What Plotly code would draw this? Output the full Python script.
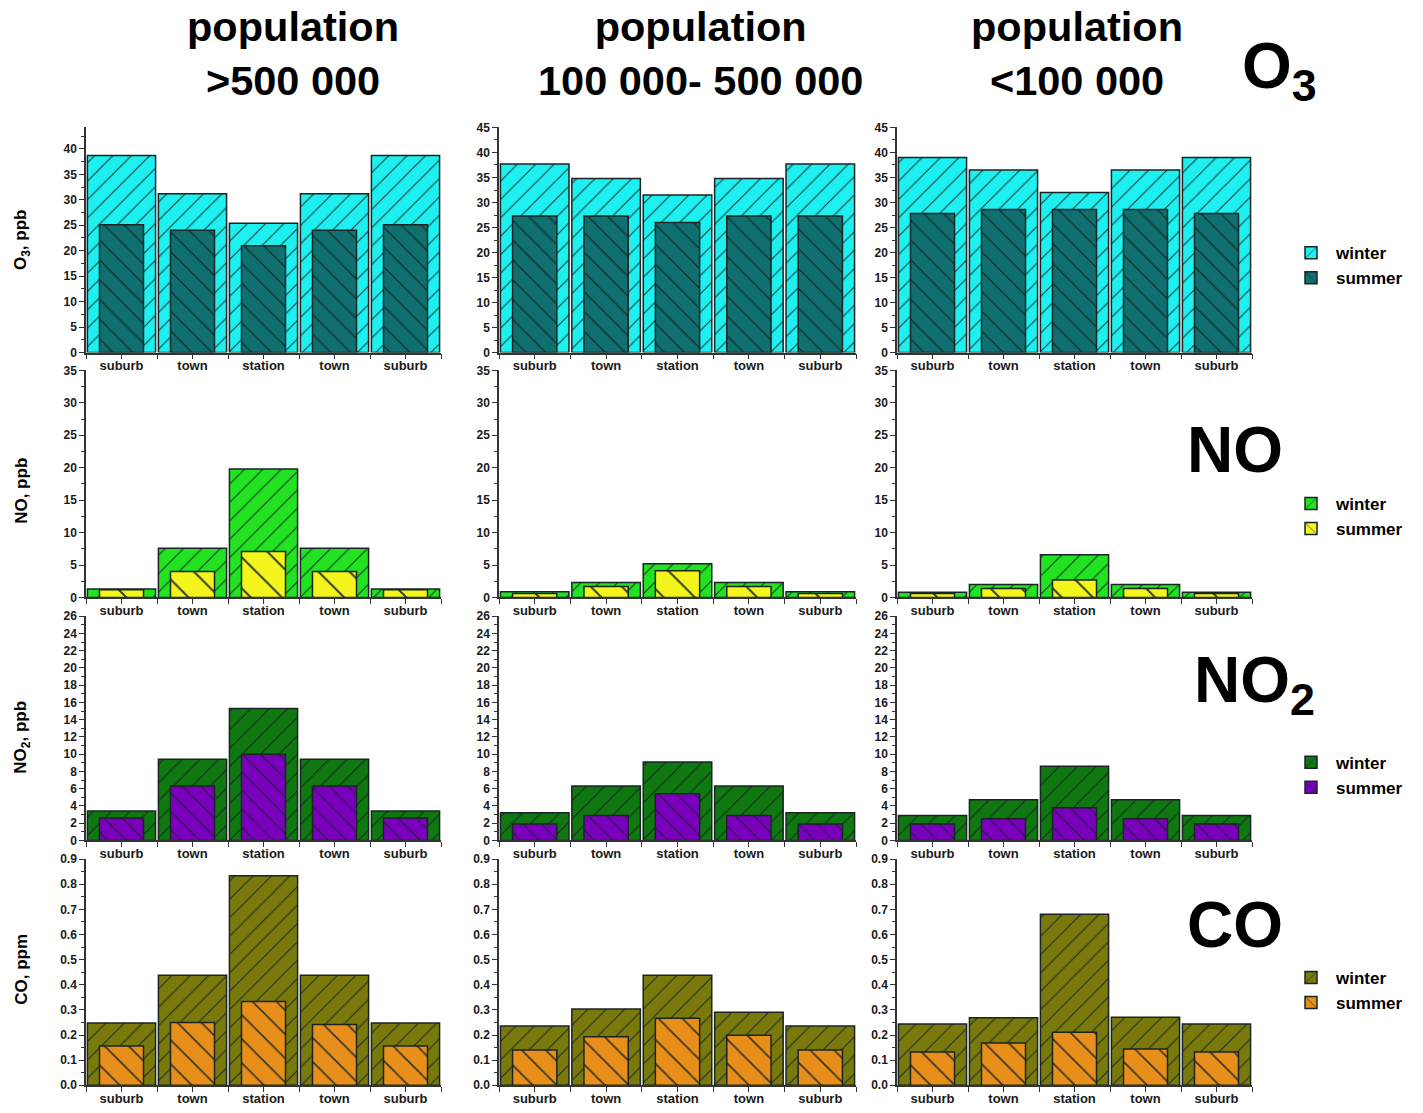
import plotly.graph_objects as go

W, H = 1423, 1113

site_labels = ["suburb", "town", "station", "town", "suburb"]
site_pos = [1, 2, 3, 4, 5]
column_titles = ["population<br>&gt;500 000",
                 "population<br>100 000- 500 000",
                 "population<br>&lt;100 000"]
season_names = ["winter", "summer"]

# O3, ppb
o3_winter_large = [38.7, 31.2, 25.4, 31.2, 38.7]
o3_summer_large = [25.1, 24.0, 21.0, 24.0, 25.1]
o3_winter_mid = [37.7, 34.8, 31.5, 34.8, 37.7]
o3_summer_mid = [27.3, 27.3, 26.0, 27.3, 27.3]
o3_winter_small = [39.0, 36.5, 32.0, 36.5, 39.0]
o3_summer_small = [27.8, 28.6, 28.6, 28.6, 27.8]

# NO, ppb
no_winter_large = [1.3, 7.6, 19.8, 7.6, 1.3]
no_summer_large = [1.2, 4.0, 7.1, 4.0, 1.2]
no_winter_mid = [0.9, 2.3, 5.2, 2.3, 0.9]
no_summer_mid = [0.6, 1.7, 4.1, 1.7, 0.6]
no_winter_small = [0.8, 2.0, 6.6, 2.0, 0.8]
no_summer_small = [0.6, 1.4, 2.7, 1.4, 0.6]

# NO2, ppb
no2_winter_large = [3.4, 9.4, 15.3, 9.4, 3.4]
no2_summer_large = [2.6, 6.3, 10.0, 6.3, 2.6]
no2_winter_mid = [3.2, 6.3, 9.1, 6.3, 3.2]
no2_summer_mid = [1.9, 2.9, 5.4, 2.9, 1.9]
no2_winter_small = [2.9, 4.7, 8.6, 4.7, 2.9]
no2_summer_small = [1.9, 2.5, 3.8, 2.5, 1.9]

# CO, ppm
co_winter_large = [0.248, 0.438, 0.834, 0.438, 0.248]
co_summer_large = [0.156, 0.250, 0.333, 0.242, 0.156]
co_winter_mid = [0.236, 0.304, 0.438, 0.291, 0.236]
co_summer_mid = [0.140, 0.193, 0.267, 0.199, 0.140]
co_winter_small = [0.244, 0.269, 0.681, 0.271, 0.244]
co_summer_small = [0.132, 0.168, 0.211, 0.144, 0.132]

rows = [
    dict(label="O<sub>3</sub>", ytitle="O<sub>3</sub>, ppb",
         winter=[o3_winter_large, o3_winter_mid, o3_winter_small],
         summer=[o3_summer_large, o3_summer_mid, o3_summer_small],
         ranges=[[0, 44.2], [0, 45], [0, 45]], dtick=5, minor=2.5, fmt="",
         colors=("rgb(30,240,240)", "rgb(16,112,112)"), hatch=(13, 14)),
    dict(label="NO", ytitle="NO, ppb",
         winter=[no_winter_large, no_winter_mid, no_winter_small],
         summer=[no_summer_large, no_summer_mid, no_summer_small],
         ranges=[[0, 35]] * 3, dtick=5, minor=2.5, fmt="",
         colors=("rgb(34,226,34)", "rgb(245,245,30)"), hatch=(13, 22)),
    dict(label="NO<sub>2</sub>", ytitle="NO<sub>2</sub>, ppb",
         winter=[no2_winter_large, no2_winter_mid, no2_winter_small],
         summer=[no2_summer_large, no2_summer_mid, no2_summer_small],
         ranges=[[0, 26]] * 3, dtick=2, minor=1, fmt="",
         colors=("rgb(16,120,16)", "rgb(122,0,190)"), hatch=(13, 13)),
    dict(label="CO", ytitle="CO, ppm",
         winter=[co_winter_large, co_winter_mid, co_winter_small],
         summer=[co_summer_large, co_summer_mid, co_summer_small],
         ranges=[[0, 0.9]] * 3, dtick=0.1, minor=0.05, fmt=".1f",
         colors=("rgb(122,122,12)", "rgb(232,142,26)"), hatch=(13, 17)),
]

# panel geometry in pixels
col_x = [(86, 441), (499, 856), (897, 1252)]
row_y = [(122, 350), (368, 598), (617, 844), (863, 1092)]
legend_top = [231, 485, 747, 965]
ytitle_center = [236, 490, 740, 975]
label_pos = [(1240, 64), (1185, 449), (1192, 686), (1185, 930)]
title_x = [293, 700, 1077]

FONT = "Liberation Sans, Arial, sans-serif"
INK = "#1a1a1a"

fig = go.Figure()
layout = dict(width=W, height=H, margin=dict(l=0, r=0, t=0, b=0), autosize=False,
              paper_bgcolor="white", plot_bgcolor="white", barmode="overlay",
              showlegend=True, font=dict(family=FONT, color=INK))
annotations = []

for r, spec in enumerate(rows):
    legend_name = "legend" if r == 0 else f"legend{r + 1}"
    for c in range(3):
        idx = r * 3 + c + 1
        xa = "x" if idx == 1 else f"x{idx}"
        ya = "y" if idx == 1 else f"y{idx}"
        for s, (vals, width, shape) in enumerate(
                [(spec["winter"][c], 0.96, "/"), (spec["summer"][c], 0.62, "\\")]):
            fig.add_trace(go.Bar(
                x=site_pos, y=vals, width=width, xaxis=xa, yaxis=ya,
                name=season_names[s], legend=legend_name,
                showlegend=(c == 2),
                marker=dict(color=spec["colors"][s],
                            line=dict(color="#1a2424", width=1.5),
                            pattern=dict(shape=shape, size=spec["hatch"][s],
                                         solidity=0.09, fgcolor="#102020",
                                         fgopacity=0.85)),
            ))
        x0, x1 = col_x[c]
        y0, y1 = row_y[r]
        layout[f"xaxis{'' if idx == 1 else idx}"] = dict(
            domain=[x0 / W, x1 / W], anchor=ya, range=[0.5, 5.5],
            tickmode="array", tickvals=site_pos, ticktext=site_labels,
            ticks="outside", ticklen=5, tickwidth=1.3, tickcolor="#333",
            ticklabelstandoff=-5,
            minor=dict(tickmode="linear", tick0=0.5, dtick=1, ticks="outside",
                       ticklen=5, tickwidth=1.3, tickcolor="#333"),
            showline=True, linecolor="#333", linewidth=1.5,
            showgrid=False, zeroline=False, fixedrange=True,
            tickfont=dict(family=FONT, size=13, color=INK, weight="bold"),
        )
        layout[f"yaxis{'' if idx == 1 else idx}"] = dict(
            domain=[1 - y1 / H, 1 - y0 / H], anchor=xa, range=spec["ranges"][c],
            dtick=spec["dtick"], tick0=0, tickformat=spec["fmt"],
            ticks="outside", ticklen=5, tickwidth=1.3, tickcolor="#333",
            minor=dict(dtick=spec["minor"], ticks="outside", ticklen=3,
                       tickwidth=1, tickcolor="#333"),
            showline=True, linecolor="#333", linewidth=1.5,
            showgrid=False, zeroline=False, fixedrange=True,
            tickfont=dict(family=FONT, size=12, color=INK, weight="bold"),
        )
    layout[legend_name] = dict(
        x=1286 / W, y=1 - legend_top[r] / H, xanchor="left", yanchor="top",
        bgcolor="rgba(0,0,0,0)", traceorder="normal", itemwidth=40,
        font=dict(family=FONT, size=17, color="black", weight="bold"),
        tracegroupgap=0,
    )
    # pollutant name beside each row
    lx, ly = label_pos[r]
    annotations.append(dict(text=spec["label"], xref="paper", yref="paper",
                            x=lx / W, y=1 - ly / H, xanchor="left", yanchor="middle",
                            showarrow=False,
                            font=dict(family=FONT, size=64, color="black", weight="bold")))
    # y-axis title on the left column
    annotations.append(dict(text=spec["ytitle"], xref="paper", yref="paper",
                            x=22 / W, y=1 - ytitle_center[r] / H, textangle=-90,
                            xanchor="center", yanchor="middle", showarrow=False,
                            font=dict(family=FONT, size=17, color="black", weight="bold")))

for c, t in enumerate(column_titles):
    annotations.append(dict(text=t, xref="paper", yref="paper",
                            x=title_x[c] / W, y=1 - 47 / H, xanchor="center",
                            yanchor="middle", showarrow=False,
                            font=dict(family=FONT, size=41.5, color="black", weight="bold")))

layout["annotations"] = annotations
fig.update_layout(**layout)
fig.write_html("out.html")
